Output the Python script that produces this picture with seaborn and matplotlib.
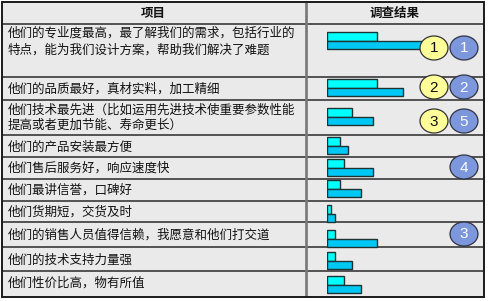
import matplotlib
matplotlib.use("Agg")
import matplotlib.pyplot as plt
from matplotlib.patches import Rectangle, Ellipse
import seaborn as sns
import pandas as pd

# ---------------- data ----------------
header_left = "项目"
header_right = "调查结果"
items = [
    "他们的专业度最高，最了解我们的需求，包括行业的\n特点，能为我们设计方案，帮助我们解决了难题",
    "他们的品质最好，真材实料，加工精细",
    "他们技术最先进（比如运用先进技术使重要参数性能\n提高或者更加节能、寿命更长）",
    "他们的产品安装最方便",
    "他们售后服务好，响应速度快",
    "他们最讲信誉，口碑好",
    "他们货期短，交货及时",
    "他们的销售人员值得信赖，我愿意和他们打交道",
    "他们的技术支持力量强",
    "他们性价比高，物有所值",
]
series_a = [12, 12, 6, 3, 4, 3, 1, 2, 2, 4]       # top (light cyan) bars
series_b = [23, 18, 11, 5, 11, 8, 2, 12, 6, 8]    # bottom (blue) bars
rank_a = {0: "1", 1: "2", 2: "3"}                 # yellow markers
rank_b = {0: "1", 1: "2", 2: "5", 4: "4", 7: "3"} # blue markers

# ---------------- layout (pixels) ----------------
W, H = 488, 301
L, R, T, B = 2, 484, 2, 297
col_x = 305.5
row_bounds = [24, 77, 100, 135, 157, 179, 201, 222, 247, 271, 297]
text_y = [33, 89, 110, 147, 168, 190, 212, 235, 260, 283]
line_gap = [17, 0, 15, 0, 0, 0, 0, 0, 0, 0]
bar_top = [32, 79, 108, 137, 159, 180, 205, 230, 252, 276]
bar_h = 8.5
bar_x0 = 327
px_per_unit = 4.2
row_mark_y = [48, 87, 121, None, 167, None, None, 234, None, None]
yellow_x, blue_x = 434, 464

sns.set_theme(style="white")
plt.rcParams["font.family"] = ["Noto Sans CJK SC", "DejaVu Sans"]

fig = plt.figure(figsize=(W / 100, H / 100), dpi=100)
fig.patch.set_facecolor("white")

# table axes in pixel coordinates
ax = fig.add_axes([0, 0, 1, 1])
ax.set_xlim(0, W)
ax.set_ylim(H, 0)
ax.axis("off")
ax.add_patch(Rectangle((L, T), R - L, B - T, facecolor="#EAEAEA", edgecolor="none", zorder=0))
for yb in row_bounds[:-1]:
    ax.plot([L, R], [yb, yb], color="#2a2a2a", lw=1.1, zorder=2, solid_capstyle="butt")
ax.plot([col_x, col_x], [T, B], color="#777777", lw=1.9, zorder=2, solid_capstyle="butt")
ax.add_patch(Rectangle((L, T), R - L, B - T, facecolor="none", edgecolor="#1a1a1a", lw=1.4, zorder=3))

ax.text((L + col_x) / 2, 13, header_left, ha="center", va="center", fontsize=9,
        fontweight="bold", color="#111111")
ax.text((col_x + R) / 2, 13, header_right, ha="center", va="center", fontsize=9,
        fontweight="bold", color="#111111")
for i, label in enumerate(items):
    for j, line in enumerate(label.split("\n")):
        ax.text(8, text_y[i] + j * line_gap[i], line, ha="left", va="center",
                fontsize=9, color="#111111")

# bar axes: x in data units, y in pixel rows
bx = fig.add_axes([bar_x0 / W, 1 - B / H, (R - bar_x0) / W, (B - row_bounds[0]) / H])
rows = []
for i in range(len(items)):
    rows.append({"pos": bar_top[i] + bar_h / 2, "value": series_a[i], "series": "A"})
    rows.append({"pos": bar_top[i] + 1.5 * bar_h, "value": series_b[i], "series": "B"})
df = pd.DataFrame(rows)
sns.barplot(data=df, x="value", y="pos", hue="series", orient="y", native_scale=True,
            dodge=False, width=1.0, palette={"A": "#00FFFF", "B": "#00C8F5"},
            saturation=1, edgecolor="#1f3333", linewidth=1.0, legend=False,
            errorbar=None, ax=bx)
bx.set_xlim(0, (R - bar_x0) / px_per_unit)
bx.set_ylim(B, row_bounds[0])
bx.axis("off")
bx.patch.set_alpha(0)

# marker axes on top, pixel coordinates
mx = fig.add_axes([0, 0, 1, 1])
mx.set_xlim(0, W)
mx.set_ylim(H, 0)
mx.axis("off")
mx.patch.set_alpha(0)
for i, lab in rank_a.items():
    y = row_mark_y[i]
    mx.add_patch(Ellipse((yellow_x, y), 28, 24, facecolor="#FFFF99", edgecolor="#333333", lw=0.9))
    mx.text(yellow_x, y + 0.5, lab, ha="center", va="center", fontsize=11,
            family="Liberation Sans", color="#111111")
for i, lab in rank_b.items():
    y = row_mark_y[i]
    mx.add_patch(Ellipse((blue_x, y), 28, 24, facecolor="#7C97DC", edgecolor="#333344", lw=0.9))
    mx.text(blue_x, y + 0.5, lab, ha="center", va="center", fontsize=11,
            family="Liberation Sans", color="white")

fig.savefig("out.png", dpi=100)
